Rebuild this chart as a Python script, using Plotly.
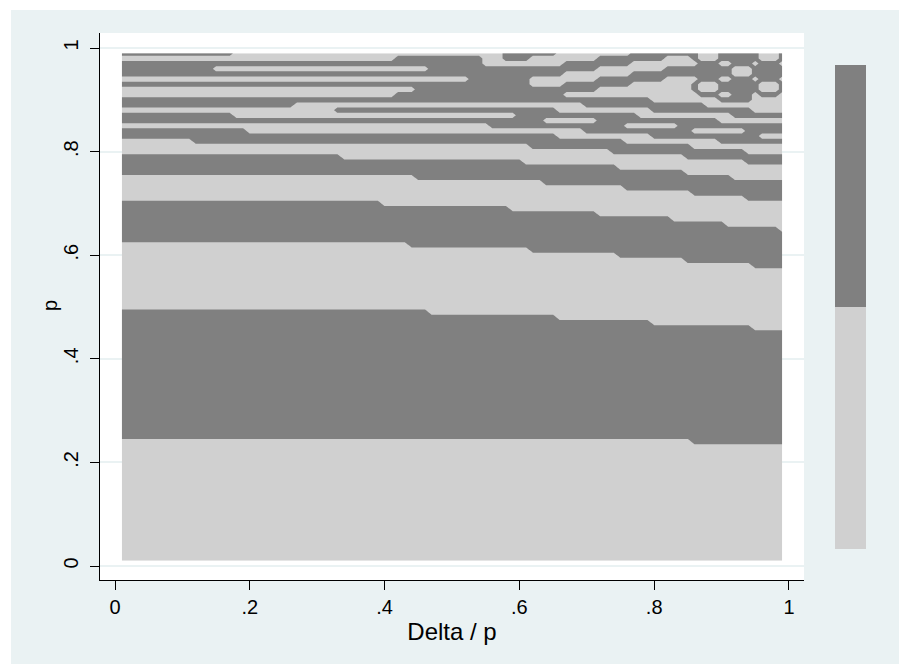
import numpy as np
import plotly.graph_objects as go

LIGHT = "#D0D0D0"
DARK = "#808080"
BG = "#EAF2F3"

# sampling grid of the contour (Delta/p and p)
grid_x = np.round(np.arange(1, 100) / 100, 2)
grid_p = np.round(np.arange(1, 100) / 100, 2)

# staircase boundaries between bands:
# (Delta/p where a level starts, boundary value of p)
b1_x = [0.00, 0.86]
b1_p = [0.245, 0.235]
b2_x = [0.00, 0.463, 0.653, 0.80, 0.945]
b2_p = [0.495, 0.485, 0.475, 0.465, 0.455]
b3_x = [0.00, 0.433, 0.611, 0.745, 0.843, 0.942]
b3_p = [0.625, 0.615, 0.605, 0.595, 0.585, 0.575]
b4_x = [0.00, 0.393, 0.581, 0.715, 0.823, 0.902, 0.985]
b4_p = [0.705, 0.695, 0.685, 0.675, 0.665, 0.655, 0.645]
b5_x = [0.00, 0.442, 0.631, 0.754, 0.853, 0.937]
b5_p = [0.755, 0.745, 0.735, 0.725, 0.715, 0.705]
b6_x = [0.00, 0.334, 0.601, 0.742, 0.843, 0.92]
b6_p = [0.795, 0.785, 0.775, 0.765, 0.755, 0.745]
b7_x = [0.00, 0.843, 0.937]
b7_p = [0.805, 0.785, 0.775]

# rows p >= 0.80: value at left edge (1 = dark) and Delta/p where it flips
top_p = [0.99, 0.98, 0.97, 0.96, 0.95, 0.94, 0.93, 0.92, 0.91, 0.90,
         0.89, 0.88, 0.87, 0.86, 0.85, 0.84, 0.83, 0.82, 0.81, 0.80]
top_start = [1, 0, 1, 1, 1, 0, 1, 0, 0, 1,
             1, 0, 1, 1, 0, 1, 1, 0, 0, 0]
top_flips = [
    [0.173, 0.58, 0.66, 0.77, 0.87, 0.90, 0.96, 0.99],
    [0.413, 0.55, 0.58, 0.62, 0.72, 0.82, 0.86, 0.87, 0.90, 0.96, 0.99],
    [0.55, 0.67, 0.77, 0.87, 0.90, 0.92, 0.95, 0.96, 0.99],
    [0.146, 0.465, 0.72, 0.82, 0.92, 0.95],
    [0.67, 0.77, 0.92, 0.95],
    [0.524, 0.62, 0.72, 0.82, 0.87, 0.90, 0.92, 0.95, 0.96, 0.99],
    [0.62, 0.67, 0.77, 0.86, 0.87, 0.90, 0.96, 0.99],
    [0.445, 0.72, 0.86, 0.87, 0.90, 0.96, 0.99],
    [0.413, 0.67, 0.87, 0.90, 0.92, 0.95, 0.96, 0.99],
    [0.80, 0.90, 0.95],
    [0.265, 0.70, 0.88],
    [0.326, 0.66, 0.80, 0.95],
    [0.18, 0.60, 0.78, 0.92],
    [0.64, 0.72, 0.90],
    [0.56, 0.76, 0.84],
    [0.20, 0.70, 0.86, 0.94],
    [0.66, 0.80, 0.96],
    [0.116, 0.76, 0.90],
    [0.62, 0.86],
    [0.74, 0.937],
]

boundaries = [(b1_x, b1_p), (b2_x, b2_p), (b3_x, b3_p), (b4_x, b4_p),
              (b5_x, b5_p), (b6_x, b6_p), (b7_x, b7_p)]

z = np.zeros((len(grid_p), len(grid_x)))
for i, xv in enumerate(grid_x):
    bvals = [bp[np.searchsorted(bx, xv, side="right") - 1] for bx, bp in boundaries]
    for j, pv in enumerate(grid_p):
        z[j, i] = sum(b < pv for b in bvals) % 2
for pv, s, fl in zip(top_p, top_start, top_flips):
    j = int(np.argmin(np.abs(grid_p - pv)))
    for i, xv in enumerate(grid_x):
        z[j, i] = (s + sum(t <= xv + 1e-9 for t in fl)) % 2

fig = go.Figure()
fig.add_trace(go.Contour(
    x=grid_x, y=grid_p, z=z, zmin=0, zmax=1,
    contours=dict(start=0.5, end=0.5, size=1, coloring="fill", showlines=False),
    colorscale=[[0, LIGHT], [0.5, LIGHT], [0.5, DARK], [1, DARK]],
    line=dict(width=0, smoothing=0),
    hoverinfo="skip",
    colorbar=dict(x=1.044, xanchor="left", xpad=0, thickness=31,
                  len=0.885, lenmode="fraction", y=0.499, yanchor="middle", ypad=0,
                  outlinewidth=0, showticklabels=False, ticks=""),
))

# page pixel -> paper coordinates (the page body has an 8px margin)
def px(v):
    return (v - 100) / 704
def py(v):
    return (580 - v) / 547

FONT = "Liberation Sans, Arial, sans-serif"
fig.update_layout(
    width=902, height=656,
    margin=dict(l=92, r=106, t=25, b=84),
    paper_bgcolor="white", plot_bgcolor="rgba(0,0,0,0)",
    font=dict(family=FONT, size=20, color="black"),
    shapes=[
        dict(type="rect", xref="paper", yref="paper", x0=px(11), x1=px(899),
             y0=py(664), y1=py(10), fillcolor=BG, line=dict(width=0), layer="below"),
        dict(type="rect", xref="paper", yref="paper", x0=0, x1=1, y0=0, y1=1,
             fillcolor="white", line=dict(width=0), layer="below"),
    ],
    annotations=[
        dict(text="p", xref="paper", yref="paper", x=px(50), y=py(305),
             xanchor="center", yanchor="middle", textangle=-90, showarrow=False,
             font=dict(family=FONT, size=20, color="black")),
    ],
    xaxis=dict(range=[-0.0223, 1.0223], tickvals=[0, 0.2, 0.4, 0.6, 0.8, 1],
               ticktext=["0", ".2", ".4", ".6", ".8", "1"],
               showgrid=False, zeroline=False, showline=True, linecolor="black",
               linewidth=1, ticks="outside", ticklen=9, tickcolor="black",
               title=dict(text="Delta / p", standoff=6)),
    yaxis=dict(range=[-0.027, 1.029], tickvals=[0, 0.2, 0.4, 0.6, 0.8, 1],
               ticktext=["0", ".2", ".4", ".6", ".8", "1"], tickangle=-90,
               ticklabelstandoff=4,
               showgrid=True, gridcolor=BG, gridwidth=1.5,
               zeroline=False, showline=True, linecolor="black",
               linewidth=1, ticks="outside", ticklen=9, tickcolor="black"),
)
fig.write_html("out.html")
